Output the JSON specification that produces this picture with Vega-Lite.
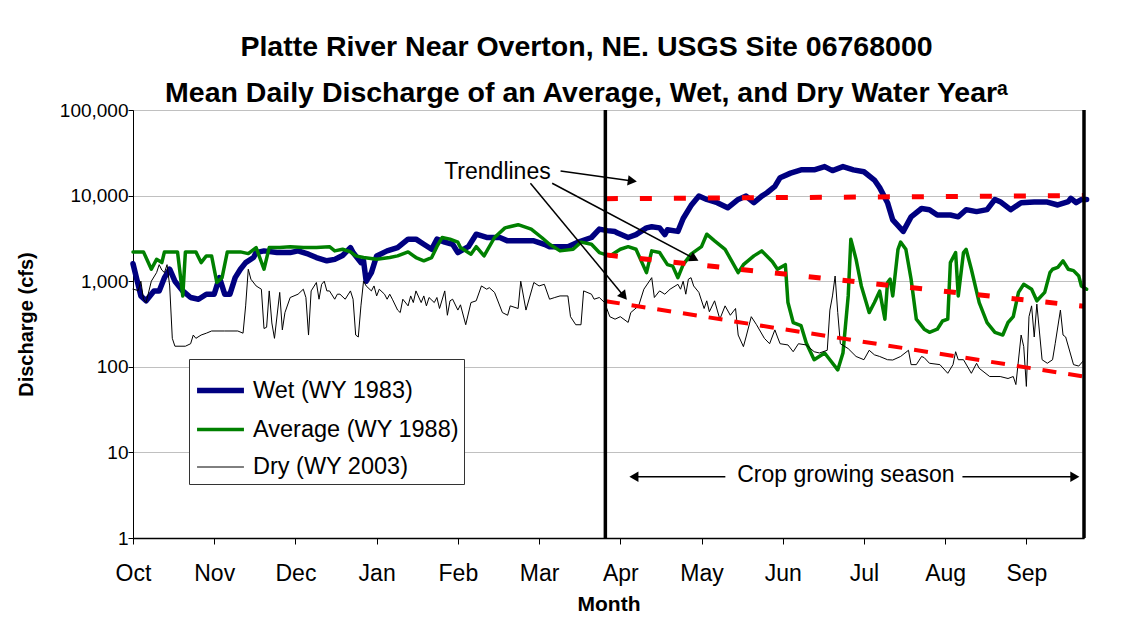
{
  "$schema": "https://vega.github.io/schema/vega-lite/v6.json",
  "width": 951,
  "height": 428,
  "autosize": "none",
  "padding": {"left": 133, "top": 110, "right": 47, "bottom": 85},
  "background": "white",
  "title": {
    "text": ["Platte River Near Overton, NE. USGS Site 06768000", "Mean Daily Discharge of an Average, Wet, and Dry Water Yearᵃ"],
    "font": "Liberation Sans",
    "fontSize": 28.5,
    "fontWeight": "bold",
    "color": "black",
    "lineHeight": 46,
    "anchor": "middle",
    "frame": "group",
    "dx": -22,
    "offset": -6
  },
  "config": {
    "view": {"stroke": "#404040", "strokeWidth": 1},
    "font": "Liberation Sans",
    "axis": {"labelFont": "Liberation Sans", "titleFont": "Liberation Sans", "labelColor": "black", "titleColor": "black", "domainColor": "black", "tickColor": "black"}
  },
  "data": {"values": [
    {"s":"Wet (WY 1983)","d":0,"q":1600},{"s":"Wet (WY 1983)","d":3,"q":673},{"s":"Wet (WY 1983)","d":5,"q":590},{"s":"Wet (WY 1983)","d":8,"q":770},{"s":"Wet (WY 1983)","d":10,"q":770},{"s":"Wet (WY 1983)","d":12,"q":1100},{"s":"Wet (WY 1983)","d":14,"q":1380},{"s":"Wet (WY 1983)","d":16,"q":1000},{"s":"Wet (WY 1983)","d":19,"q":770},{"s":"Wet (WY 1983)","d":22,"q":645},{"s":"Wet (WY 1983)","d":25,"q":616},{"s":"Wet (WY 1983)","d":28,"q":705},{"s":"Wet (WY 1983)","d":31,"q":705},{"s":"Wet (WY 1983)","d":33,"q":1100},{"s":"Wet (WY 1983)","d":35,"q":705},{"s":"Wet (WY 1983)","d":37,"q":705},{"s":"Wet (WY 1983)","d":39,"q":1100},{"s":"Wet (WY 1983)","d":41,"q":1380},{"s":"Wet (WY 1983)","d":43,"q":1650},{"s":"Wet (WY 1983)","d":46,"q":1890},{"s":"Wet (WY 1983)","d":47,"q":2160},{"s":"Wet (WY 1983)","d":50,"q":2260},{"s":"Wet (WY 1983)","d":55,"q":2160},{"s":"Wet (WY 1983)","d":60,"q":2160},{"s":"Wet (WY 1983)","d":63,"q":2260},{"s":"Wet (WY 1983)","d":67,"q":2070},{"s":"Wet (WY 1983)","d":70,"q":1890},{"s":"Wet (WY 1983)","d":74,"q":1730},{"s":"Wet (WY 1983)","d":77,"q":1800},{"s":"Wet (WY 1983)","d":80,"q":2000},{"s":"Wet (WY 1983)","d":83,"q":2470},{"s":"Wet (WY 1983)","d":84,"q":2160},{"s":"Wet (WY 1983)","d":87,"q":1650},{"s":"Wet (WY 1983)","d":88,"q":1730},{"s":"Wet (WY 1983)","d":89,"q":1000},{"s":"Wet (WY 1983)","d":91,"q":1260},{"s":"Wet (WY 1983)","d":93,"q":1975},{"s":"Wet (WY 1983)","d":97,"q":2260},{"s":"Wet (WY 1983)","d":101,"q":2470},{"s":"Wet (WY 1983)","d":105,"q":3100},{"s":"Wet (WY 1983)","d":108,"q":3100},{"s":"Wet (WY 1983)","d":111,"q":2700},{"s":"Wet (WY 1983)","d":114,"q":2360},{"s":"Wet (WY 1983)","d":116,"q":3100},{"s":"Wet (WY 1983)","d":119,"q":2860},{"s":"Wet (WY 1983)","d":122,"q":2700},{"s":"Wet (WY 1983)","d":124,"q":2160},{"s":"Wet (WY 1983)","d":128,"q":2530},{"s":"Wet (WY 1983)","d":131,"q":3540},{"s":"Wet (WY 1983)","d":135,"q":3240},{"s":"Wet (WY 1983)","d":140,"q":3240},{"s":"Wet (WY 1983)","d":143,"q":2960},{"s":"Wet (WY 1983)","d":147,"q":2960},{"s":"Wet (WY 1983)","d":153,"q":2960},{"s":"Wet (WY 1983)","d":157,"q":2700},{"s":"Wet (WY 1983)","d":159,"q":2530},{"s":"Wet (WY 1983)","d":166,"q":2530},{"s":"Wet (WY 1983)","d":170,"q":2860},{"s":"Wet (WY 1983)","d":175,"q":3240},{"s":"Wet (WY 1983)","d":178,"q":4060},{"s":"Wet (WY 1983)","d":181,"q":3900},{"s":"Wet (WY 1983)","d":184,"q":3800},{"s":"Wet (WY 1983)","d":185,"q":3650},{"s":"Wet (WY 1983)","d":189,"q":3240},{"s":"Wet (WY 1983)","d":192,"q":3500},{"s":"Wet (WY 1983)","d":196,"q":4200},{"s":"Wet (WY 1983)","d":198,"q":4330},{"s":"Wet (WY 1983)","d":201,"q":4200},{"s":"Wet (WY 1983)","d":203,"q":3500},{"s":"Wet (WY 1983)","d":204,"q":4000},{"s":"Wet (WY 1983)","d":208,"q":3820},{"s":"Wet (WY 1983)","d":210,"q":5400},{"s":"Wet (WY 1983)","d":213,"q":7650},{"s":"Wet (WY 1983)","d":216,"q":9870},{"s":"Wet (WY 1983)","d":219,"q":9020},{"s":"Wet (WY 1983)","d":223,"q":8270},{"s":"Wet (WY 1983)","d":227,"q":7200},{"s":"Wet (WY 1983)","d":231,"q":9020},{"s":"Wet (WY 1983)","d":234,"q":9870},{"s":"Wet (WY 1983)","d":237,"q":8270},{"s":"Wet (WY 1983)","d":240,"q":9870},{"s":"Wet (WY 1983)","d":242,"q":10800},{"s":"Wet (WY 1983)","d":245,"q":12800},{"s":"Wet (WY 1983)","d":247,"q":16200},{"s":"Wet (WY 1983)","d":251,"q":18300},{"s":"Wet (WY 1983)","d":255,"q":20000},{"s":"Wet (WY 1983)","d":260,"q":20000},{"s":"Wet (WY 1983)","d":264,"q":21800},{"s":"Wet (WY 1983)","d":267,"q":19600},{"s":"Wet (WY 1983)","d":271,"q":21800},{"s":"Wet (WY 1983)","d":275,"q":20000},{"s":"Wet (WY 1983)","d":279,"q":19000},{"s":"Wet (WY 1983)","d":283,"q":15200},{"s":"Wet (WY 1983)","d":285,"q":12400},{"s":"Wet (WY 1983)","d":288,"q":8270},{"s":"Wet (WY 1983)","d":290,"q":5190},{"s":"Wet (WY 1983)","d":294,"q":3820},{"s":"Wet (WY 1983)","d":297,"q":5650},{"s":"Wet (WY 1983)","d":301,"q":7070},{"s":"Wet (WY 1983)","d":304,"q":6850},{"s":"Wet (WY 1983)","d":307,"q":5930},{"s":"Wet (WY 1983)","d":312,"q":5930},{"s":"Wet (WY 1983)","d":315,"q":5650},{"s":"Wet (WY 1983)","d":318,"q":6850},{"s":"Wet (WY 1983)","d":322,"q":6500},{"s":"Wet (WY 1983)","d":326,"q":6850},{"s":"Wet (WY 1983)","d":329,"q":9020},{"s":"Wet (WY 1983)","d":331,"q":8490},{"s":"Wet (WY 1983)","d":335,"q":6850},{"s":"Wet (WY 1983)","d":339,"q":8270},{"s":"Wet (WY 1983)","d":344,"q":8400},{"s":"Wet (WY 1983)","d":349,"q":8400},{"s":"Wet (WY 1983)","d":353,"q":7770},{"s":"Wet (WY 1983)","d":357,"q":8500},{"s":"Wet (WY 1983)","d":358,"q":9300},{"s":"Wet (WY 1983)","d":360,"q":8270},{"s":"Wet (WY 1983)","d":362,"q":9000},{"s":"Wet (WY 1983)","d":364,"q":9000},
    {"s":"Average (WY 1988)","d":0,"q":2200},{"s":"Average (WY 1988)","d":4,"q":2200},{"s":"Average (WY 1988)","d":7,"q":1380},{"s":"Average (WY 1988)","d":9,"q":1800},{"s":"Average (WY 1988)","d":11,"q":1650},{"s":"Average (WY 1988)","d":12,"q":2200},{"s":"Average (WY 1988)","d":17,"q":2200},{"s":"Average (WY 1988)","d":19,"q":673},{"s":"Average (WY 1988)","d":20,"q":2200},{"s":"Average (WY 1988)","d":24,"q":2200},{"s":"Average (WY 1988)","d":26,"q":1650},{"s":"Average (WY 1988)","d":28,"q":1975},{"s":"Average (WY 1988)","d":30,"q":1975},{"s":"Average (WY 1988)","d":32,"q":966},{"s":"Average (WY 1988)","d":34,"q":1100},{"s":"Average (WY 1988)","d":36,"q":2200},{"s":"Average (WY 1988)","d":41,"q":2200},{"s":"Average (WY 1988)","d":44,"q":2100},{"s":"Average (WY 1988)","d":47,"q":2470},{"s":"Average (WY 1988)","d":50,"q":1380},{"s":"Average (WY 1988)","d":52,"q":2470},{"s":"Average (WY 1988)","d":56,"q":2470},{"s":"Average (WY 1988)","d":60,"q":2530},{"s":"Average (WY 1988)","d":65,"q":2470},{"s":"Average (WY 1988)","d":70,"q":2470},{"s":"Average (WY 1988)","d":75,"q":2530},{"s":"Average (WY 1988)","d":77,"q":2260},{"s":"Average (WY 1988)","d":80,"q":2360},{"s":"Average (WY 1988)","d":83,"q":2200},{"s":"Average (WY 1988)","d":85,"q":1975},{"s":"Average (WY 1988)","d":88,"q":1890},{"s":"Average (WY 1988)","d":93,"q":1800},{"s":"Average (WY 1988)","d":98,"q":1890},{"s":"Average (WY 1988)","d":101,"q":1975},{"s":"Average (WY 1988)","d":105,"q":2200},{"s":"Average (WY 1988)","d":108,"q":1890},{"s":"Average (WY 1988)","d":111,"q":1730},{"s":"Average (WY 1988)","d":114,"q":1890},{"s":"Average (WY 1988)","d":116,"q":2530},{"s":"Average (WY 1988)","d":118,"q":3240},{"s":"Average (WY 1988)","d":121,"q":3100},{"s":"Average (WY 1988)","d":124,"q":2860},{"s":"Average (WY 1988)","d":125,"q":2470},{"s":"Average (WY 1988)","d":129,"q":2070},{"s":"Average (WY 1988)","d":131,"q":2530},{"s":"Average (WY 1988)","d":134,"q":1975},{"s":"Average (WY 1988)","d":138,"q":3240},{"s":"Average (WY 1988)","d":142,"q":4200},{"s":"Average (WY 1988)","d":147,"q":4570},{"s":"Average (WY 1988)","d":152,"q":4060},{"s":"Average (WY 1988)","d":156,"q":3240},{"s":"Average (WY 1988)","d":159,"q":2700},{"s":"Average (WY 1988)","d":163,"q":2260},{"s":"Average (WY 1988)","d":168,"q":2360},{"s":"Average (WY 1988)","d":171,"q":2860},{"s":"Average (WY 1988)","d":175,"q":2700},{"s":"Average (WY 1988)","d":178,"q":2160},{"s":"Average (WY 1988)","d":182,"q":1975},{"s":"Average (WY 1988)","d":186,"q":2360},{"s":"Average (WY 1988)","d":189,"q":2530},{"s":"Average (WY 1988)","d":192,"q":2360},{"s":"Average (WY 1988)","d":196,"q":1260},{"s":"Average (WY 1988)","d":198,"q":2260},{"s":"Average (WY 1988)","d":201,"q":2160},{"s":"Average (WY 1988)","d":204,"q":1560},{"s":"Average (WY 1988)","d":206,"q":1500},{"s":"Average (WY 1988)","d":208,"q":1100},{"s":"Average (WY 1988)","d":210,"q":1560},{"s":"Average (WY 1988)","d":213,"q":2070},{"s":"Average (WY 1988)","d":217,"q":2530},{"s":"Average (WY 1988)","d":219,"q":3540},{"s":"Average (WY 1988)","d":222,"q":2960},{"s":"Average (WY 1988)","d":226,"q":2360},{"s":"Average (WY 1988)","d":231,"q":1260},{"s":"Average (WY 1988)","d":233,"q":1560},{"s":"Average (WY 1988)","d":237,"q":1975},{"s":"Average (WY 1988)","d":240,"q":2260},{"s":"Average (WY 1988)","d":244,"q":1700},{"s":"Average (WY 1988)","d":246,"q":1380},{"s":"Average (WY 1988)","d":249,"q":1560},{"s":"Average (WY 1988)","d":250,"q":563},{"s":"Average (WY 1988)","d":252,"q":329},{"s":"Average (WY 1988)","d":255,"q":302},{"s":"Average (WY 1988)","d":257,"q":190},{"s":"Average (WY 1988)","d":260,"q":121},{"s":"Average (WY 1988)","d":264,"q":145},{"s":"Average (WY 1988)","d":266,"q":121},{"s":"Average (WY 1988)","d":269,"q":92},{"s":"Average (WY 1988)","d":271,"q":145},{"s":"Average (WY 1988)","d":273,"q":673},{"s":"Average (WY 1988)","d":274,"q":3100},{"s":"Average (WY 1988)","d":276,"q":1800},{"s":"Average (WY 1988)","d":278,"q":880},{"s":"Average (WY 1988)","d":281,"q":430},{"s":"Average (WY 1988)","d":283,"q":563},{"s":"Average (WY 1988)","d":285,"q":765},{"s":"Average (WY 1988)","d":287,"q":360},{"s":"Average (WY 1988)","d":288,"q":966},{"s":"Average (WY 1988)","d":289,"q":1055},{"s":"Average (WY 1988)","d":290,"q":673},{"s":"Average (WY 1988)","d":292,"q":2360},{"s":"Average (WY 1988)","d":293,"q":2860},{"s":"Average (WY 1988)","d":295,"q":2360},{"s":"Average (WY 1988)","d":297,"q":1055},{"s":"Average (WY 1988)","d":299,"q":360},{"s":"Average (WY 1988)","d":302,"q":275},{"s":"Average (WY 1988)","d":304,"q":253},{"s":"Average (WY 1988)","d":307,"q":275},{"s":"Average (WY 1988)","d":309,"q":343},{"s":"Average (WY 1988)","d":311,"q":360},{"s":"Average (WY 1988)","d":312,"q":1650},{"s":"Average (WY 1988)","d":314,"q":2160},{"s":"Average (WY 1988)","d":315,"q":673},{"s":"Average (WY 1988)","d":317,"q":2160},{"s":"Average (WY 1988)","d":318,"q":2360},{"s":"Average (WY 1988)","d":320,"q":1380},{"s":"Average (WY 1988)","d":323,"q":563},{"s":"Average (WY 1988)","d":326,"q":329},{"s":"Average (WY 1988)","d":329,"q":253},{"s":"Average (WY 1988)","d":332,"q":235},{"s":"Average (WY 1988)","d":334,"q":329},{"s":"Average (WY 1988)","d":336,"q":385},{"s":"Average (WY 1988)","d":338,"q":740},{"s":"Average (WY 1988)","d":340,"q":920},{"s":"Average (WY 1988)","d":343,"q":806},{"s":"Average (WY 1988)","d":345,"q":590},{"s":"Average (WY 1988)","d":348,"q":740},{"s":"Average (WY 1988)","d":350,"q":1260},{"s":"Average (WY 1988)","d":351,"q":1380},{"s":"Average (WY 1988)","d":353,"q":1450},{"s":"Average (WY 1988)","d":355,"q":1730},{"s":"Average (WY 1988)","d":357,"q":1380},{"s":"Average (WY 1988)","d":359,"q":1330},{"s":"Average (WY 1988)","d":361,"q":1150},{"s":"Average (WY 1988)","d":362,"q":880},{"s":"Average (WY 1988)","d":364,"q":806},
    {"s":"Dry (WY 2003)","d":0,"q":806},{"s":"Dry (WY 2003)","d":2,"q":780},{"s":"Dry (WY 2003)","d":3,"q":1000},{"s":"Dry (WY 2003)","d":4,"q":616},{"s":"Dry (WY 2003)","d":5,"q":563},{"s":"Dry (WY 2003)","d":7,"q":1000},{"s":"Dry (WY 2003)","d":9,"q":1260},{"s":"Dry (WY 2003)","d":10,"q":1560},{"s":"Dry (WY 2003)","d":11,"q":1350},{"s":"Dry (WY 2003)","d":12,"q":1260},{"s":"Dry (WY 2003)","d":13,"q":1560},{"s":"Dry (WY 2003)","d":14,"q":880},{"s":"Dry (WY 2003)","d":15,"q":215},{"s":"Dry (WY 2003)","d":16,"q":174},{"s":"Dry (WY 2003)","d":20,"q":174},{"s":"Dry (WY 2003)","d":22,"q":186},{"s":"Dry (WY 2003)","d":23,"q":235},{"s":"Dry (WY 2003)","d":24,"q":215},{"s":"Dry (WY 2003)","d":26,"q":235},{"s":"Dry (WY 2003)","d":28,"q":247},{"s":"Dry (WY 2003)","d":30,"q":262},{"s":"Dry (WY 2003)","d":35,"q":262},{"s":"Dry (WY 2003)","d":40,"q":262},{"s":"Dry (WY 2003)","d":42,"q":247},{"s":"Dry (WY 2003)","d":43,"q":515},{"s":"Dry (WY 2003)","d":44,"q":1380},{"s":"Dry (WY 2003)","d":45,"q":1055},{"s":"Dry (WY 2003)","d":47,"q":880},{"s":"Dry (WY 2003)","d":49,"q":806},{"s":"Dry (WY 2003)","d":50,"q":280},{"s":"Dry (WY 2003)","d":51,"q":290},{"s":"Dry (WY 2003)","d":52,"q":770},{"s":"Dry (WY 2003)","d":53,"q":325},{"s":"Dry (WY 2003)","d":54,"q":215},{"s":"Dry (WY 2003)","d":56,"q":740},{"s":"Dry (WY 2003)","d":57,"q":270},{"s":"Dry (WY 2003)","d":58,"q":430},{"s":"Dry (WY 2003)","d":60,"q":645},{"s":"Dry (WY 2003)","d":63,"q":705},{"s":"Dry (WY 2003)","d":65,"q":806},{"s":"Dry (WY 2003)","d":66,"q":645},{"s":"Dry (WY 2003)","d":67,"q":235},{"s":"Dry (WY 2003)","d":68,"q":770},{"s":"Dry (WY 2003)","d":70,"q":966},{"s":"Dry (WY 2003)","d":71,"q":616},{"s":"Dry (WY 2003)","d":72,"q":920},{"s":"Dry (WY 2003)","d":73,"q":1000},{"s":"Dry (WY 2003)","d":74,"q":770},{"s":"Dry (WY 2003)","d":75,"q":770},{"s":"Dry (WY 2003)","d":77,"q":616},{"s":"Dry (WY 2003)","d":78,"q":705},{"s":"Dry (WY 2003)","d":79,"q":705},{"s":"Dry (WY 2003)","d":81,"q":616},{"s":"Dry (WY 2003)","d":83,"q":770},{"s":"Dry (WY 2003)","d":84,"q":616},{"s":"Dry (WY 2003)","d":85,"q":235},{"s":"Dry (WY 2003)","d":86,"q":223},{"s":"Dry (WY 2003)","d":87,"q":515},{"s":"Dry (WY 2003)","d":88,"q":1000},{"s":"Dry (WY 2003)","d":89,"q":880},{"s":"Dry (WY 2003)","d":91,"q":770},{"s":"Dry (WY 2003)","d":92,"q":880},{"s":"Dry (WY 2003)","d":93,"q":673},{"s":"Dry (WY 2003)","d":94,"q":806},{"s":"Dry (WY 2003)","d":96,"q":705},{"s":"Dry (WY 2003)","d":97,"q":616},{"s":"Dry (WY 2003)","d":98,"q":705},{"s":"Dry (WY 2003)","d":99,"q":616},{"s":"Dry (WY 2003)","d":101,"q":460},{"s":"Dry (WY 2003)","d":102,"q":430},{"s":"Dry (WY 2003)","d":103,"q":616},{"s":"Dry (WY 2003)","d":105,"q":515},{"s":"Dry (WY 2003)","d":106,"q":673},{"s":"Dry (WY 2003)","d":107,"q":563},{"s":"Dry (WY 2003)","d":108,"q":770},{"s":"Dry (WY 2003)","d":110,"q":563},{"s":"Dry (WY 2003)","d":111,"q":673},{"s":"Dry (WY 2003)","d":112,"q":515},{"s":"Dry (WY 2003)","d":113,"q":645},{"s":"Dry (WY 2003)","d":115,"q":563},{"s":"Dry (WY 2003)","d":116,"q":645},{"s":"Dry (WY 2003)","d":117,"q":480},{"s":"Dry (WY 2003)","d":119,"q":770},{"s":"Dry (WY 2003)","d":120,"q":400},{"s":"Dry (WY 2003)","d":121,"q":590},{"s":"Dry (WY 2003)","d":122,"q":616},{"s":"Dry (WY 2003)","d":124,"q":460},{"s":"Dry (WY 2003)","d":125,"q":530},{"s":"Dry (WY 2003)","d":127,"q":310},{"s":"Dry (WY 2003)","d":129,"q":563},{"s":"Dry (WY 2003)","d":131,"q":590},{"s":"Dry (WY 2003)","d":133,"q":880},{"s":"Dry (WY 2003)","d":135,"q":806},{"s":"Dry (WY 2003)","d":136,"q":840},{"s":"Dry (WY 2003)","d":138,"q":740},{"s":"Dry (WY 2003)","d":141,"q":430},{"s":"Dry (WY 2003)","d":143,"q":400},{"s":"Dry (WY 2003)","d":144,"q":515},{"s":"Dry (WY 2003)","d":147,"q":480},{"s":"Dry (WY 2003)","d":148,"q":1000},{"s":"Dry (WY 2003)","d":150,"q":460},{"s":"Dry (WY 2003)","d":153,"q":966},{"s":"Dry (WY 2003)","d":155,"q":880},{"s":"Dry (WY 2003)","d":157,"q":920},{"s":"Dry (WY 2003)","d":159,"q":616},{"s":"Dry (WY 2003)","d":161,"q":645},{"s":"Dry (WY 2003)","d":163,"q":673},{"s":"Dry (WY 2003)","d":166,"q":673},{"s":"Dry (WY 2003)","d":167,"q":385},{"s":"Dry (WY 2003)","d":169,"q":310},{"s":"Dry (WY 2003)","d":171,"q":310},{"s":"Dry (WY 2003)","d":172,"q":770},{"s":"Dry (WY 2003)","d":175,"q":705},{"s":"Dry (WY 2003)","d":176,"q":616},{"s":"Dry (WY 2003)","d":178,"q":645},{"s":"Dry (WY 2003)","d":180,"q":563},{"s":"Dry (WY 2003)","d":182,"q":385},{"s":"Dry (WY 2003)","d":184,"q":360},{"s":"Dry (WY 2003)","d":186,"q":385},{"s":"Dry (WY 2003)","d":189,"q":330},{"s":"Dry (WY 2003)","d":190,"q":430},{"s":"Dry (WY 2003)","d":193,"q":515},{"s":"Dry (WY 2003)","d":195,"q":806},{"s":"Dry (WY 2003)","d":198,"q":1100},{"s":"Dry (WY 2003)","d":199,"q":645},{"s":"Dry (WY 2003)","d":201,"q":770},{"s":"Dry (WY 2003)","d":203,"q":705},{"s":"Dry (WY 2003)","d":205,"q":806},{"s":"Dry (WY 2003)","d":208,"q":920},{"s":"Dry (WY 2003)","d":209,"q":806},{"s":"Dry (WY 2003)","d":210,"q":1000},{"s":"Dry (WY 2003)","d":211,"q":705},{"s":"Dry (WY 2003)","d":212,"q":1055},{"s":"Dry (WY 2003)","d":213,"q":1100},{"s":"Dry (WY 2003)","d":214,"q":880},{"s":"Dry (WY 2003)","d":216,"q":740},{"s":"Dry (WY 2003)","d":218,"q":480},{"s":"Dry (WY 2003)","d":219,"q":590},{"s":"Dry (WY 2003)","d":220,"q":440},{"s":"Dry (WY 2003)","d":222,"q":590},{"s":"Dry (WY 2003)","d":223,"q":460},{"s":"Dry (WY 2003)","d":224,"q":360},{"s":"Dry (WY 2003)","d":226,"q":515},{"s":"Dry (WY 2003)","d":228,"q":400},{"s":"Dry (WY 2003)","d":230,"q":480},{"s":"Dry (WY 2003)","d":231,"q":235},{"s":"Dry (WY 2003)","d":233,"q":172},{"s":"Dry (WY 2003)","d":234,"q":223},{"s":"Dry (WY 2003)","d":236,"q":385},{"s":"Dry (WY 2003)","d":238,"q":310},{"s":"Dry (WY 2003)","d":241,"q":215},{"s":"Dry (WY 2003)","d":243,"q":186},{"s":"Dry (WY 2003)","d":245,"q":270},{"s":"Dry (WY 2003)","d":246,"q":223},{"s":"Dry (WY 2003)","d":247,"q":186},{"s":"Dry (WY 2003)","d":250,"q":180},{"s":"Dry (WY 2003)","d":252,"q":150},{"s":"Dry (WY 2003)","d":254,"q":186},{"s":"Dry (WY 2003)","d":257,"q":180},{"s":"Dry (WY 2003)","d":260,"q":150},{"s":"Dry (WY 2003)","d":262,"q":145},{"s":"Dry (WY 2003)","d":265,"q":156},{"s":"Dry (WY 2003)","d":266,"q":460},{"s":"Dry (WY 2003)","d":267,"q":673},{"s":"Dry (WY 2003)","d":268,"q":1150},{"s":"Dry (WY 2003)","d":269,"q":430},{"s":"Dry (WY 2003)","d":270,"q":186},{"s":"Dry (WY 2003)","d":273,"q":163},{"s":"Dry (WY 2003)","d":276,"q":132},{"s":"Dry (WY 2003)","d":279,"q":121},{"s":"Dry (WY 2003)","d":281,"q":156},{"s":"Dry (WY 2003)","d":283,"q":138},{"s":"Dry (WY 2003)","d":285,"q":132},{"s":"Dry (WY 2003)","d":288,"q":121},{"s":"Dry (WY 2003)","d":290,"q":120},{"s":"Dry (WY 2003)","d":293,"q":132},{"s":"Dry (WY 2003)","d":296,"q":156},{"s":"Dry (WY 2003)","d":297,"q":106},{"s":"Dry (WY 2003)","d":299,"q":106},{"s":"Dry (WY 2003)","d":301,"q":132},{"s":"Dry (WY 2003)","d":302,"q":128},{"s":"Dry (WY 2003)","d":304,"q":110},{"s":"Dry (WY 2003)","d":308,"q":106},{"s":"Dry (WY 2003)","d":311,"q":84},{"s":"Dry (WY 2003)","d":313,"q":106},{"s":"Dry (WY 2003)","d":314,"q":150},{"s":"Dry (WY 2003)","d":315,"q":121},{"s":"Dry (WY 2003)","d":317,"q":121},{"s":"Dry (WY 2003)","d":320,"q":84},{"s":"Dry (WY 2003)","d":322,"q":110},{"s":"Dry (WY 2003)","d":323,"q":96},{"s":"Dry (WY 2003)","d":327,"q":77},{"s":"Dry (WY 2003)","d":331,"q":77},{"s":"Dry (WY 2003)","d":334,"q":73},{"s":"Dry (WY 2003)","d":336,"q":77},{"s":"Dry (WY 2003)","d":337,"q":62},{"s":"Dry (WY 2003)","d":339,"q":235},{"s":"Dry (WY 2003)","d":340,"q":172},{"s":"Dry (WY 2003)","d":341,"q":59},{"s":"Dry (WY 2003)","d":342,"q":385},{"s":"Dry (WY 2003)","d":343,"q":515},{"s":"Dry (WY 2003)","d":344,"q":223},{"s":"Dry (WY 2003)","d":345,"q":540},{"s":"Dry (WY 2003)","d":347,"q":121},{"s":"Dry (WY 2003)","d":349,"q":110},{"s":"Dry (WY 2003)","d":351,"q":121},{"s":"Dry (WY 2003)","d":352,"q":186},{"s":"Dry (WY 2003)","d":354,"q":460},{"s":"Dry (WY 2003)","d":355,"q":235},{"s":"Dry (WY 2003)","d":356,"q":223},{"s":"Dry (WY 2003)","d":359,"q":106},{"s":"Dry (WY 2003)","d":361,"q":102},{"s":"Dry (WY 2003)","d":363,"q":120}
  ]},
  "layer": [
    {
      "mark": {"type": "line", "strokeJoin": "round", "strokeCap": "round"},
      "encoding": {
        "x": {"field": "d", "type": "quantitative", "scale": {"domain": [0, 363], "nice": false, "zero": false},
          "axis": {"values": [0, 31, 62, 93, 124, 155, 186, 217, 248, 279, 310, 341], "labelExpr": "['Oct','Nov','Dec','Jan','Feb','Mar','Apr','May','Jun','Jul','Aug','Sep'][round(datum.value/31)]",
            "labelFlush": false, "labelOverlap": false,
            "grid": false, "tickSize": 6, "labelFontSize": 23, "labelPadding": 18, "title": "Month", "titleFontSize": 21, "titleFontWeight": "bold", "titlePadding": 8, "domainWidth": 1.5}},
        "y": {"field": "q", "type": "quantitative", "scale": {"type": "log", "domain": [1, 100000], "nice": false},
          "axis": {"values": [1, 10, 100, 1000, 10000, 100000], "format": ",", "grid": true, "gridColor": "#c0c0c0", "gridWidth": 1.2, "tickSize": 5, "labelFontSize": 19, "labelPadding": 0,
            "title": "Discharge (cfs)", "titleFontSize": 20, "titleFontWeight": "bold", "titlePadding": 23}},
        "color": {"field": "s", "type": "nominal", "scale": {"domain": ["Wet (WY 1983)", "Average (WY 1988)", "Dry (WY 2003)"], "range": ["#000080", "#008000", "#000000"]},
          "legend": {"orient": "none", "legendX": 56, "legendY": 249, "title": null, "labelFontSize": 23.5, "labelFont": "Liberation Sans", "labelColor": "black", "symbolType": "stroke", "symbolSize": 2200, "strokeColor": "#333333", "fillColor": "white", "padding": 5, "rowPadding": 2, "labelOffset": 6, "labelLimit": 400}},
        "strokeWidth": {"field": "s", "type": "nominal", "scale": {"type": "ordinal", "domain": ["Wet (WY 1983)", "Average (WY 1988)", "Dry (WY 2003)"], "range": [5.5, 3.5, 1]},
          "legend": {"orient": "none", "legendX": 56, "legendY": 249, "title": null, "labelFontSize": 23.5, "labelFont": "Liberation Sans", "labelColor": "black", "symbolType": "stroke", "symbolSize": 2200, "strokeColor": "#333333", "fillColor": "white", "padding": 5, "rowPadding": 2, "labelOffset": 6, "labelLimit": 400}},
        "order": {"field": "d", "type": "quantitative"}
      }
    },
    {
      "data": {"values": [
        {"t": "Wet trend", "d": 180.5, "q": 9200}, {"t": "Wet trend", "d": 363, "q": 10000},
        {"t": "Average trend", "d": 180.5, "q": 2030}, {"t": "Average trend", "d": 363, "q": 510}
      ]},
      "mark": {"type": "line", "color": "#ff0000", "strokeWidth": 5, "strokeDash": [12, 22]},
      "encoding": {"x": {"field": "d", "type": "quantitative"}, "y": {"field": "q", "type": "quantitative"}, "detail": {"field": "t"}}
    },
    {
      "data": {"values": [{"t": "Dry trend", "d": 180.5, "q": 584}, {"t": "Dry trend", "d": 363, "q": 77}]},
      "mark": {"type": "line", "color": "#ff0000", "strokeWidth": 4, "strokeDash": [14, 12]},
      "encoding": {"x": {"field": "d", "type": "quantitative"}, "y": {"field": "q", "type": "quantitative"}, "detail": {"field": "t"}}
    },
    {
      "data": {"values": [{"d": 180.3}, {"d": 363}]},
      "mark": {"type": "rule", "color": "black", "strokeWidth": 3.5},
      "encoding": {"x": {"field": "d", "type": "quantitative"}}
    },
    {
      "data": {"values": [
        {"d": 163.2, "q": 19370, "d2": 190.6, "q2": 14830},
        {"d": 160, "q": 13930, "d2": 214.3, "q2": 1833},
        {"d": 151.7, "q": 13930, "d2": 187.4, "q2": 668},
        {"d": 226.1, "q": 5.2, "d2": 191.2, "q2": 5.2},
        {"d": 316.6, "q": 5.2, "d2": 359.5, "q2": 5.2}
      ]},
      "mark": {"type": "rule", "color": "black", "strokeWidth": 1.5},
      "encoding": {"x": {"field": "d", "type": "quantitative"}, "y": {"field": "q", "type": "quantitative"}, "x2": {"field": "d2"}, "y2": {"field": "q2"}}
    },
    {
      "data": {"values": [
        {"d": 190.6, "q": 14830, "a": 8, "sh": "triangle-right"},
        {"d": 214.3, "q": 1833, "a": 28, "sh": "triangle-right"},
        {"d": 187.4, "q": 668, "a": 50, "sh": "triangle-right"},
        {"d": 191.2, "q": 5.2, "a": 0, "sh": "triangle-left"},
        {"d": 359.5, "q": 5.2, "a": 0, "sh": "triangle-right"}
      ]},
      "mark": {"type": "point", "filled": true, "color": "black", "size": 110, "opacity": 1},
      "encoding": {"x": {"field": "d", "type": "quantitative"}, "y": {"field": "q", "type": "quantitative"},
        "angle": {"field": "a", "type": "quantitative", "scale": null},
        "shape": {"field": "sh", "type": "nominal", "scale": null}}
    },
    {
      "data": {"values": [{"d": 139.1, "q": 18880, "txt": "Trendlines"}, {"d": 272.1, "q": 5.45, "txt": "Crop growing season"}]},
      "mark": {"type": "text", "font": "Liberation Sans", "fontSize": 23, "color": "black", "align": "center", "baseline": "middle"},
      "encoding": {"x": {"field": "d", "type": "quantitative"}, "y": {"field": "q", "type": "quantitative"}, "text": {"field": "txt"}}
    }
  ]
}
